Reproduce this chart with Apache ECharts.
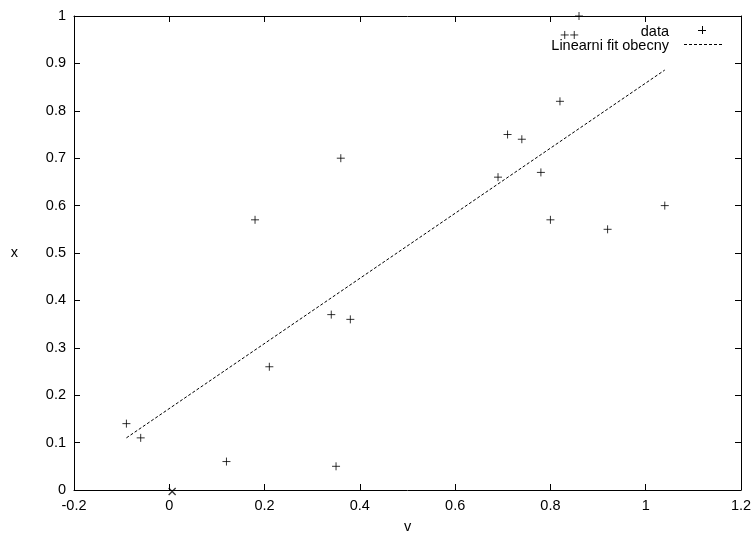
<!DOCTYPE html>
<html>
<head>
<meta charset="utf-8">
<script src="https://cdn.jsdelivr.net/npm/echarts@6/dist/echarts.min.js"></script>
<style>html,body{margin:0;padding:0;background:#fff}#c{width:753px;height:533px}</style>
</head>
<body>
<div id="c"></div>
<script>
var dataV = [-0.09, -0.06, 0.12, 0.18, 0.21, 0.34, 0.35, 0.36, 0.38, 0.69, 0.71, 0.74, 0.78, 0.80, 0.82, 0.83, 0.85, 0.86, 0.92, 1.04];
var dataX = [0.14, 0.11, 0.06, 0.57, 0.26, 0.37, 0.05, 0.70, 0.36, 0.66, 0.75, 0.74, 0.67, 0.57, 0.82, 0.96, 0.96, 1.00, 0.55, 0.60];
var fitV = [-0.09, 1.04];
var fitX = [0.11, 0.886];
var originV = [0.006];
var originX = [-0.003];
var xTicks = [-0.2, 0, 0.2, 0.4, 0.6, 0.8, 1, 1.2];
var yTicks = [0, 0.1, 0.2, 0.3, 0.4, 0.5, 0.6, 0.7, 0.8, 0.9, 1];

var FONT = '"Liberation Sans", Arial, Helvetica, sans-serif';
var FS = 14.5;
var chart = echarts.init(document.getElementById('c'), null, {renderer: 'canvas'});
function pairs(a, b) { return a.map(function (v, i) { return [v, b[i]]; }); }
function fmt(v) { return String(Math.round(v * 10) / 10); }
var axLine = {show: true, onZero: false, lineStyle: {color: '#000', width: 1}};
var tick = {show: true, inside: true, length: 6, lineStyle: {color: '#000', width: 1}};
var plus = 'path://M0,5L10,5M5,0L5,10';
var cross = 'path://M0,0L10,10M10,0L0,10';

chart.setOption({
  animation: false,
  backgroundColor: '#fff',
  textStyle: {fontFamily: FONT},
  grid: {left: 74, right: 12, top: 16, bottom: 43, containLabel: false, outerBoundsMode: 'none'},
  xAxis: [{
    type: 'value', min: xTicks[0], max: xTicks[xTicks.length - 1], interval: 0.2,
    position: 'bottom',
    name: 'v', nameLocation: 'middle', nameGap: 29,
    nameTextStyle: {color: '#000', fontSize: FS, fontFamily: FONT},
    axisLine: axLine, axisTick: tick, splitLine: {show: false},
    axisLabel: {color: '#000', fontSize: FS, fontFamily: FONT, margin: 8, formatter: fmt}
  }, {
    type: 'value', min: xTicks[0], max: xTicks[xTicks.length - 1], interval: 0.2,
    position: 'top',
    axisLine: axLine, axisTick: tick, splitLine: {show: false}, axisLabel: {show: false}
  }],
  yAxis: [{
    type: 'value', min: yTicks[0], max: yTicks[yTicks.length - 1], interval: 0.1,
    position: 'left',
    name: 'x', nameLocation: 'middle', nameGap: 56, nameRotate: 0,
    nameTextStyle: {color: '#000', fontSize: FS, fontFamily: FONT},
    axisLine: axLine, axisTick: tick, splitLine: {show: false},
    axisLabel: {color: '#000', fontSize: FS, fontFamily: FONT, margin: 8, formatter: fmt}
  }, {
    type: 'value', min: yTicks[0], max: yTicks[yTicks.length - 1], interval: 0.1,
    position: 'right',
    axisLine: axLine, axisTick: tick, splitLine: {show: false}, axisLabel: {show: false}
  }],
  series: [{
    type: 'line', name: 'Linearni fit obecny',
    data: pairs(fitV, fitX), showSymbol: false, symbol: 'none',
    lineStyle: {color: '#000', width: 1, type: [3, 2]}, z: 2
  }, {
    type: 'scatter', name: 'data', data: pairs(dataV, dataX),
    symbol: plus, symbolSize: 8, clip: false,
    itemStyle: {color: 'rgba(0,0,0,0)', borderColor: '#000', borderWidth: 1}, z: 3
  }, {
    type: 'scatter', name: 'origin', data: pairs(originV, originX),
    symbol: cross, symbolSize: 7, clip: false,
    itemStyle: {color: 'rgba(0,0,0,0)', borderColor: '#000', borderWidth: 1.3}, z: 4
  }],
  graphic: [
    {type: 'text', x: 669, y: 32, style: {text: 'data', fontSize: FS, fontFamily: FONT, fill: '#000', align: 'right', verticalAlign: 'middle'}},
    {type: 'text', x: 669, y: 46, style: {text: 'Linearni fit obecny', fontSize: FS, fontFamily: FONT, fill: '#000', align: 'right', verticalAlign: 'middle'}},
    {type: 'line', shape: {x1: 698, y1: 30.5, x2: 706, y2: 30.5}, style: {stroke: '#000', lineWidth: 1}},
    {type: 'line', shape: {x1: 702.5, y1: 26, x2: 702.5, y2: 34}, style: {stroke: '#000', lineWidth: 1}},
    {type: 'line', shape: {x1: 684, y1: 44.5, x2: 722, y2: 44.5}, style: {stroke: '#000', lineWidth: 1, lineDash: [3, 2]}}
  ]
});
</script>
</body>
</html>
